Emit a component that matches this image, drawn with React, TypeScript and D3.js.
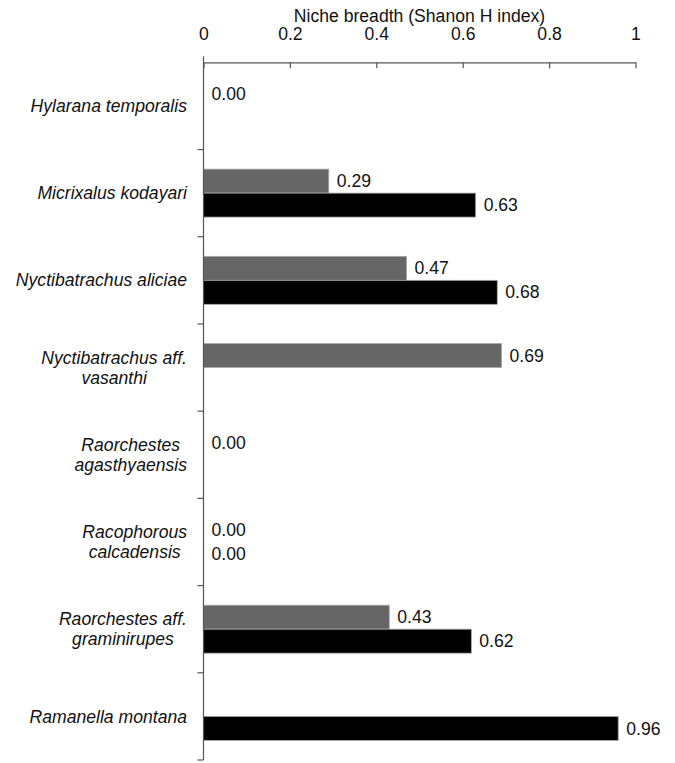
import React, { useEffect, useRef } from 'react';
import * as d3 from 'd3';

const species = [
  'Hylarana temporalis',
  'Micrixalus kodayari',
  'Nyctibatrachus aliciae',
  'Nyctibatrachus aff.\nvasanthi',
  'Raorchestes\nagasthyaensis',
  'Racophorous\ncalcadensis',
  'Raorchestes aff.\ngraminirupes',
  'Ramanella montana',
];
// null = no bar and no label
const grayValues: (number | null)[] = [0, 0.29, 0.47, 0.69, 0, 0, 0.43, null];
const blackValues: (number | null)[] = [null, 0.63, 0.68, null, null, 0, 0.62, 0.96];
const seriesKeys = ['gray', 'black'];
const seriesColors = ['#666666', '#000000'];
const xTicks = [0, 0.2, 0.4, 0.6, 0.8, 1];
const axisTitle = 'Niche breadth (Shanon H index)';

const App: React.FC = () => {
  const svgRef = useRef<SVGSVGElement>(null);

  useEffect(() => {
    document.body.style.margin = '0';
    if (!svgRef.current) return;
    const svg = d3.select(svgRef.current);
    svg.selectAll('*').remove();

    const font = 'Liberation Sans, Arial, sans-serif';
    const fs = 17.6;
    const axisColor = '#555';
    const x = d3.scaleLinear().domain([0, 1]).range([203.5, 635.5]);
    const y = d3.scaleBand<string>()
      .domain(species)
      .range([62.3, 760])
      .paddingInner(0.45)
      .paddingOuter(0.225);
    const sub = d3.scaleBand<string>().domain(seriesKeys).range([0, y.bandwidth()]);
    const step = y.step();
    const gap = (step - y.bandwidth()) / 2;

    // bars
    const series = [grayValues, blackValues];
    series.forEach((vals, si) => {
      const rows = species
        .map((s, i) => ({ s, v: vals[i] }))
        .filter(d => d.v !== null) as { s: string; v: number }[];
      const g = svg.append('g');
      g.selectAll('rect')
        .data(rows.filter(d => d.v > 0))
        .join('rect')
        .attr('x', x(0))
        .attr('y', d => (y(d.s) as number) + (sub(seriesKeys[si]) as number))
        .attr('width', d => x(d.v) - x(0))
        .attr('height', sub.bandwidth())
        .attr('fill', seriesColors[si])
        .attr('stroke', '#a8a8a8')
        .attr('stroke-width', 0.8);
      g.selectAll('text')
        .data(rows)
        .join('text')
        .attr('x', d => x(d.v) + 8)
        .attr('y', d => (y(d.s) as number) + (sub(seriesKeys[si]) as number) + sub.bandwidth() / 2)
        .attr('dy', '0.35em')
        .attr('font-family', font)
        .attr('font-size', fs)
        .attr('fill', '#111')
        .text(d => d.v.toFixed(2));
    });

    // top axis
    const top = y.range()[0];
    const xAxis = svg.append('g')
      .attr('transform', `translate(0,${top})`)
      .call(
        d3.axisTop(x)
          .tickValues(xTicks)
          .tickFormat(d => String(+d))
          .tickSizeInner(-6)
          .tickSizeOuter(0)
          .tickPadding(22)
      );
    xAxis.selectAll('path, line').attr('stroke', axisColor).attr('stroke-width', 1.2);
    xAxis.selectAll('text')
      .attr('font-family', font)
      .attr('font-size', fs)
      .attr('fill', '#111');

    svg.append('text')
      .attr('x', (x.range()[0] + x.range()[1]) / 2)
      .attr('y', 22)
      .attr('text-anchor', 'middle')
      .attr('font-family', font)
      .attr('font-size', fs)
      .attr('fill', '#111')
      .text(axisTitle);

    // left axis with ticks at category boundaries
    const yAxis = svg.append('g');
    yAxis.append('line')
      .attr('x1', x(0)).attr('x2', x(0))
      .attr('y1', top - 6).attr('y2', y.range()[1])
      .attr('stroke', axisColor).attr('stroke-width', 1.2);
    const bounds = species.map(s => (y(s) as number) - gap).concat([y.range()[1]]).slice(1);
    yAxis.selectAll('line.tick')
      .data(bounds)
      .join('line')
      .attr('class', 'tick')
      .attr('x1', x(0) - 6).attr('x2', x(0))
      .attr('y1', d => d).attr('y2', d => d)
      .attr('stroke', axisColor).attr('stroke-width', 1.2);

    // category labels: right-aligned block, lines centered within it
    const labelRight = 187;
    const lineH = 20;
    species.forEach(s => {
      const lines = s.split('\n');
      const cy = (y(s) as number) + y.bandwidth() / 2;
      const t = svg.append('text')
        .attr('font-family', font)
        .attr('font-size', fs)
        .attr('font-style', 'italic')
        .attr('fill', '#111')
        .attr('text-anchor', 'middle');
      const spans = lines.map((ln, i) =>
        t.append('tspan')
          .attr('y', cy + (i - (lines.length - 1) / 2) * lineH)
          .attr('dy', '0.35em')
          .text(ln)
      );
      const w = d3.max(spans, sp => (sp.node() as SVGTSpanElement).getComputedTextLength()) || 0;
      spans.forEach(sp => sp.attr('x', labelRight - w / 2));
    });
  }, []);

  return <svg ref={svgRef} width={675} height={763} style={{ display: 'block', background: '#fff' }} />;
};

export default App;
